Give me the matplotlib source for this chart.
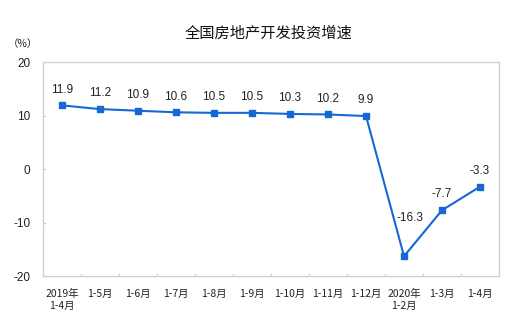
import matplotlib
matplotlib.use("Agg")
import matplotlib.pyplot as plt

plt.rcParams['font.family'] = ['Noto Sans CJK SC', 'DejaVu Sans']

categories = ["2019年\n1-4月", "1-5月", "1-6月", "1-7月", "1-8月", "1-9月",
              "1-10月", "1-11月", "1-12月", "2020年\n1-2月", "1-3月", "1-4月"]
values = [11.9, 11.2, 10.9, 10.6, 10.5, 10.5, 10.3, 10.2, 9.9, -16.3, -7.7, -3.3]
yticks = [20, 10, 0, -10, -20]

fig = plt.figure(figsize=(5.2, 3.17), dpi=100)
ax = fig.add_axes([0.0827, 0.1293, 0.877, 0.675])

x = list(range(len(values)))
color = '#1668d4'
ax.plot(x, values, color=color, lw=1.5, marker='s', ms=4.2, mfc=color, mec=color)

num_font = ['Liberation Sans', 'DejaVu Sans']
for i, v in enumerate(values):
    if i == 9:
        off = (4, 23)
    else:
        off = (0, 7)
    ax.annotate(f"{v}", (i, v), xytext=off, textcoords='offset points',
                ha='center', va='bottom', fontsize=8.5, color='#222222',
                family=num_font)

ax.set_xlim(-0.5, len(values) - 0.5)
ax.set_ylim(-20, 20)
ax.set_yticks(yticks)
ax.set_yticklabels([str(t) for t in yticks], family=num_font)
ax.tick_params(axis='y', length=2, direction='in', color='#cccccc', labelsize=8.5,
               labelcolor='#222222', pad=9)

ax.set_xticks(x)
ax.set_xticklabels(categories, fontsize=7.5, color='#222222', linespacing=1.25, va='top')
ax.set_xticks([i + 0.5 for i in range(len(values) - 1)], minor=True)
ax.tick_params(axis='x', which='major', length=0, pad=9)
ax.tick_params(axis='x', which='minor', length=2.5, direction='in', color='#cccccc')

for s in ax.spines.values():
    s.set_color('#d0d0d0')
    s.set_linewidth(1.0)

fig.text(0.517, 0.895, "全国房地产开发投资增速", ha='center', va='center', fontsize=11, color='#111111')
fig.text(0.044, 0.862, "（%）", ha='center', va='center', fontsize=7.5, color='#222222')

fig.savefig("out.png", dpi=100)
